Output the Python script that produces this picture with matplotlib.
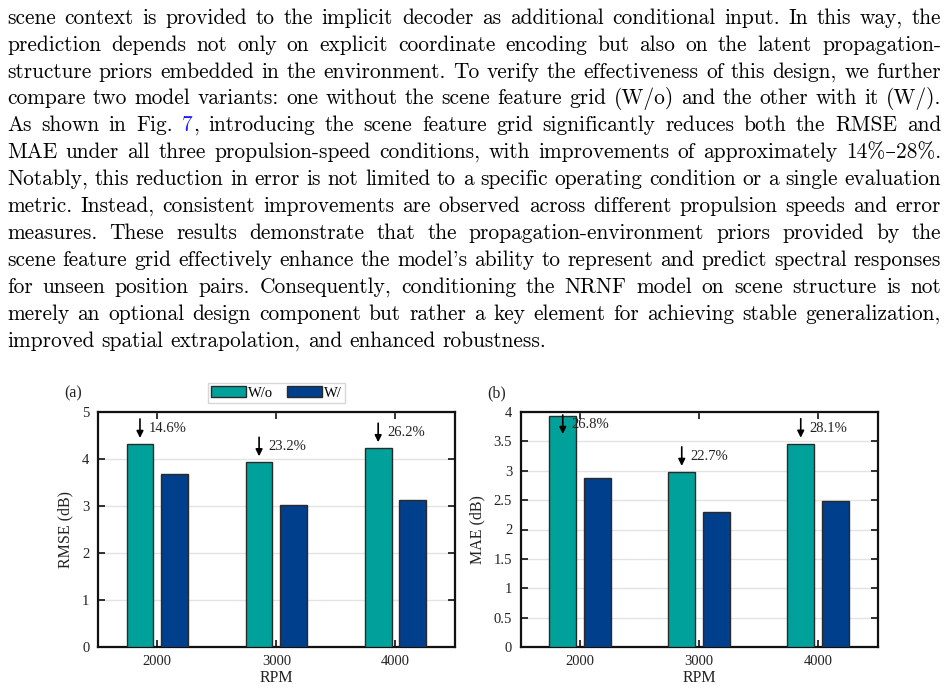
import numpy as np
import matplotlib
matplotlib.use('Agg')
import matplotlib.pyplot as plt

# ── Data ──────────────────────────────────────────────────────────────────────
rpm = ['2000', '3000', '4000']
rmse_wo = [4.32, 3.93, 4.23]
rmse_w = [3.69, 3.02, 3.12]
rmse_gain = ['14.6%', '23.2%', '26.2%']
mae_wo = [3.94, 2.98, 3.46]
mae_w = [2.88, 2.30, 2.49]
mae_gain = ['26.8%', '22.7%', '28.1%']

paragraph = [
    "scene context is provided to the implicit decoder as additional conditional input. In this way, the",
    "prediction depends not only on explicit coordinate encoding but also on the latent propagation-",
    "structure priors embedded in the environment. To verify the effectiveness of this design, we further",
    "compare two model variants: one without the scene feature grid (W/o) and the other with it (W/).",
    "As shown in Fig. 7, introducing the scene feature grid significantly reduces both the RMSE and",
    "MAE under all three propulsion-speed conditions, with improvements of approximately 14%–28%.",
    "Notably, this reduction in error is not limited to a specific operating condition or a single evaluation",
    "metric. Instead, consistent improvements are observed across different propulsion speeds and error",
    "measures. These results demonstrate that the propagation-environment priors provided by the",
    "scene feature grid effectively enhance the model's ability to represent and predict spectral responses",
    "for unseen position pairs. Consequently, conditioning the NRNF model on scene structure is not",
    "merely an optional design component but rather a key element for achieving stable generalization,",
    "improved spatial extrapolation, and enhanced robustness.",
]

TEAL = '#00A19A'
NAVY = '#003F8C'
EDGE = '#2a2a2a'
LINK = '#1a1aff'
BODY_FONT = ['cmr10', 'DejaVu Serif']
CHART_FONT = 'Liberation Serif'

W, H = 947, 691
fig = plt.figure(figsize=(W / 100, H / 100), dpi=100, facecolor='white')
renderer = fig.canvas.get_renderer()


# ── Justified paragraph ──────────────────────────────────────────────────────
def text_width(s, **kw):
    t = fig.text(0, 0, s, **kw)
    w = t.get_window_extent(renderer).width
    t.remove()
    return w


FS = 15.4
X_LEFT, X_RIGHT = 7, 941
Y0, DY = 18, 26.9
kw = dict(fontsize=FS, family=BODY_FONT)
space_w = text_width('a a', **kw) - text_width('aa', **kw)

for i, line in enumerate(paragraph):
    words = line.split(' ')
    widths = [text_width(w, **kw) for w in words]
    last = i == len(paragraph) - 1
    gap = space_w if last else (X_RIGHT - X_LEFT - sum(widths)) / (len(words) - 1)
    x = X_LEFT
    y = 1 - (Y0 + i * DY) / H
    for w, wd in zip(words, widths):
        if w == '7,':
            fig.text(x / W, y, '7', color=LINK, va='center', ha='left', **kw)
            fig.text((x + text_width('7', **kw)) / W, y, ',', va='center', ha='left', **kw)
        else:
            fig.text(x / W, y, w, va='center', ha='left', **kw)
        x += wd + gap


# ── Bar charts ───────────────────────────────────────────────────────────────
def bar_panel(rect, wo, w, gains, ymax, ystep, ylabel, tag, legend=False):
    ax = fig.add_axes(rect)
    x = np.arange(len(rpm))
    off, bw = 0.145, 0.225
    ax.bar(x - off, wo, bw, color=TEAL, edgecolor=EDGE, lw=1.0, label='W/o', zorder=3)
    ax.bar(x + off, w, bw, color=NAVY, edgecolor=EDGE, lw=1.0, label='W/', zorder=3)
    ax.set_xlim(-0.5, 2.5)
    ax.set_ylim(0, ymax)
    ax.set_xticks(x)
    ax.set_xticklabels(rpm)
    ticks = np.arange(0, ymax + 1e-9, ystep)
    ax.set_yticks(ticks)
    ax.set_yticklabels([f'{t:g}' for t in ticks])
    ax.grid(axis='y', color='#e3e3e3', lw=1.0, zorder=0)
    ax.tick_params(direction='in', top=True, right=True, length=5, width=1.3,
                   labelsize=10.5, colors='#222222', pad=6)
    for lab in ax.get_xticklabels() + ax.get_yticklabels():
        lab.set_family(CHART_FONT)
    for s in ax.spines.values():
        s.set_linewidth(1.6)
        s.set_color('#111111')
    ax.set_xlabel('RPM', family=CHART_FONT, fontsize=11.5, labelpad=1, color='#222222')
    ax.set_ylabel(ylabel, family=CHART_FONT, fontsize=11.5, labelpad=6, color='#222222')

    # reduction arrows
    px = rect[3] * H / ymax            # pixels per data unit
    alen, agap = 19 / px, 6 / px
    for xi, v, g in zip(x, wo, gains):
        top = min(v + agap + alen, ymax - 3 / px)
        tip = top - alen
        ax.annotate('', xy=(xi - off, tip), xytext=(xi - off, top),
                    arrowprops=dict(arrowstyle='-|>', color='black', lw=1.2,
                                    mutation_scale=10, shrinkA=0, shrinkB=0),
                    zorder=5)
        ax.text(xi - off + 0.075, (tip + top) / 2, g, family=CHART_FONT,
                fontsize=10.5, va='center', ha='left', color='#222222', zorder=6)

    fig.text(rect[0] - 0.035, rect[1] + rect[3] + 0.027, tag, family=CHART_FONT,
             fontsize=11.5, va='center', ha='left', color='#222222')

    if legend:
        lg = ax.legend(loc='lower center', bbox_to_anchor=(0.5, 1.04), ncol=2,
                       prop={'family': CHART_FONT, 'size': 10.5}, frameon=True,
                       fancybox=False, edgecolor='#cccccc', handlelength=2.4,
                       handleheight=0.85, handletextpad=0.15, columnspacing=0.9,
                       borderpad=0.2, borderaxespad=0)
        lg.get_frame().set_linewidth(1.0)
    return ax


bottom = 44 / H
height = 235 / H
bar_panel([97.7 / W, bottom, 357.3 / W, height], rmse_wo, rmse_w, rmse_gain,
          5, 1, 'RMSE (dB)', '(a)', legend=True)
bar_panel([520.5 / W, bottom, 357 / W, height], mae_wo, mae_w, mae_gain,
          4, 0.5, 'MAE (dB)', '(b)')

fig.savefig('out.png', dpi=100, facecolor='white')
